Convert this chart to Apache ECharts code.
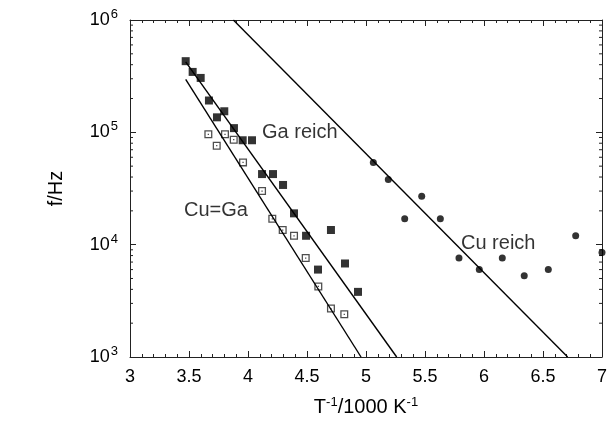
<!DOCTYPE html>
<html>
<head>
<meta charset="utf-8">
<script src="https://cdn.jsdelivr.net/npm/echarts@6/dist/echarts.min.js"></script>
<style>
  html, body { margin: 0; padding: 0; background: #fff; }
  #chart { width: 616px; height: 422px; }
</style>
</head>
<body>
<div id="chart"></div>
<script>
// Ga reich: filled squares
const gaReich = [
  [3.472, 4.3e5], [3.531, 3.45e5], [3.599, 3.05e5], [3.669, 1.92e5],
  [3.737, 1.36e5], [3.799, 1.54e5], [3.881, 1.09e5], [3.955, 8.5e4],
  [4.034, 8.5e4], [4.119, 4.25e4], [4.212, 4.25e4], [4.297, 3.4e4],
  [4.390, 1.9e4], [4.492, 1.2e4], [4.703, 1.35e4], [4.593, 6.0e3],
  [4.822, 6.8e3], [4.932, 3.8e3]
];
// Cu=Ga: open squares
const cuGa = [
  [3.664, 9.6e4], [3.735, 7.6e4], [3.805, 9.6e4], [3.879, 8.6e4],
  [3.958, 5.4e4], [4.119, 3.0e4], [4.206, 1.7e4], [4.294, 1.35e4],
  [4.390, 1.2e4], [4.489, 7.6e3], [4.596, 4.25e3], [4.703, 2.7e3],
  [4.816, 2.4e3]
];
// Cu reich: filled circles
const cuReich = [
  [5.062, 5.4e4], [5.189, 3.8e4], [5.328, 1.7e4], [5.472, 2.7e4],
  [5.630, 1.7e4], [5.788, 7.6e3], [5.960, 6.0e3], [6.155, 7.6e3],
  [6.341, 5.3e3], [6.545, 6.0e3], [6.777, 1.2e4], [7.0, 8.5e3]
];
// fitted lines
const lineGa = [[3.472, 4.24e5], [5.260, 1e3]];
const lineCuGa = [[3.472, 2.96e5], [4.958, 1e3]];
const lineCu = [[3.876, 1e6], [6.709, 1e3]];
// annotations
const labels = [
  { name: 'Ga reich', value: [4.119, 1.0e5] },
  { name: 'Cu=Ga', value: [3.458, 2.02e4] },
  { name: 'Cu reich', value: [5.805, 1.03e4] }
];
// log minor ticks 2..9 per decade
const minorY = [];
[1e3, 1e4, 1e5].forEach(function (d) {
  for (let k = 2; k <= 9; k++) minorY.push([3, k * d]);
});

const font = 'Liberation Sans, Arial, sans-serif';
const axisColor = '#222';
const openSquare = 'path://M0,0H10V10H0Z M1.6,1.6V8.4H8.4V1.6Z M4.2,4.2H5.8V5.8H4.2Z';

const xBase = {
  type: 'value', min: 3, max: 7, interval: 0.5,
  axisLine: { show: true, onZero: false, lineStyle: { color: axisColor, width: 1 } },
  axisTick: { show: true, inside: true, length: 6, lineStyle: { color: axisColor } },
  minorTick: { show: true, splitNumber: 5, length: 3, lineStyle: { color: axisColor } },
  splitLine: { show: false }
};
const yBase = {
  type: 'log', logBase: 10, min: 1e3, max: 1e6,
  axisLine: { show: true, onZero: false, lineStyle: { color: axisColor, width: 1 } },
  axisTick: { show: true, inside: true, length: 6, lineStyle: { color: axisColor } },
  splitLine: { show: false }
};

const chart = echarts.init(document.getElementById('chart'));
chart.setOption({
  animation: false,
  backgroundColor: '#fff',
  textStyle: { fontFamily: font },
  grid: { left: 130, right: 14, top: 20, bottom: 63, containLabel: false },
  xAxis: [
    Object.assign({}, xBase, {
      position: 'bottom',
      axisLabel: { color: '#000', fontSize: 18, margin: 11, fontFamily: font },
      name: 'T{s|-1}/1000 K{s|-1}',
      nameLocation: 'middle',
      nameGap: 39,
      nameTextStyle: {
        color: '#000', fontSize: 20, fontFamily: font,
        rich: { s: { fontSize: 13, verticalAlign: 'top', color: '#000', fontFamily: font, padding: [0, 0, 9, 0] } }
      }
    }),
    Object.assign({}, xBase, { position: 'top', axisLabel: { show: false } })
  ],
  yAxis: [
    Object.assign({}, yBase, {
      position: 'left',
      axisLabel: {
        margin: 12, color: '#000', fontSize: 18, fontFamily: font,
        formatter: function (v) {
          return '10{s|' + Math.round(Math.log10(v)) + '}';
        },
        rich: { s: { fontSize: 13, color: '#000', fontFamily: font, padding: [0, 0, 11, 1] } }
      },
      name: 'f/Hz',
      nameLocation: 'middle',
      nameRotate: 90,
      nameGap: 64,
      nameTextStyle: { color: '#000', fontSize: 20, fontFamily: font }
    }),
    Object.assign({}, yBase, { position: 'right', axisLabel: { show: false } })
  ],
  series: [
    {
      type: 'custom', xAxisIndex: 0, yAxisIndex: 0, silent: true, clip: false,
      data: minorY,
      renderItem: function (params, api) {
        const p = api.coord([3, api.value(1)]);
        const cs = params.coordSys;
        return {
          type: 'group',
          children: [
            { type: 'line', shape: { x1: cs.x, y1: p[1], x2: cs.x + 3, y2: p[1] }, style: { stroke: axisColor, lineWidth: 1 } },
            { type: 'line', shape: { x1: cs.x + cs.width, y1: p[1], x2: cs.x + cs.width - 3, y2: p[1] }, style: { stroke: axisColor, lineWidth: 1 } }
          ]
        };
      }
    },
    { type: 'line', data: lineGa, symbol: 'none', lineStyle: { color: '#000', width: 1.4 } },
    { type: 'line', data: lineCuGa, symbol: 'none', lineStyle: { color: '#000', width: 1.4 } },
    { type: 'line', data: lineCu, symbol: 'none', lineStyle: { color: '#000', width: 1.4 } },
    { type: 'scatter', data: gaReich, symbol: 'rect', symbolSize: 8, itemStyle: { color: '#000' } },
    { type: 'scatter', data: cuGa, symbol: openSquare, symbolSize: 8, itemStyle: { color: '#222' } },
    { type: 'scatter', data: cuReich, symbol: 'circle', symbolSize: 7, itemStyle: { color: '#000' }, clip: false },
    {
      type: 'scatter', data: labels, symbolSize: 0, silent: true,
      label: {
        show: true, position: 'right', distance: 0,
        formatter: '{b}', color: '#000', fontSize: 20, fontFamily: font
      }
    }
  ]
});
</script>
</body>
</html>
